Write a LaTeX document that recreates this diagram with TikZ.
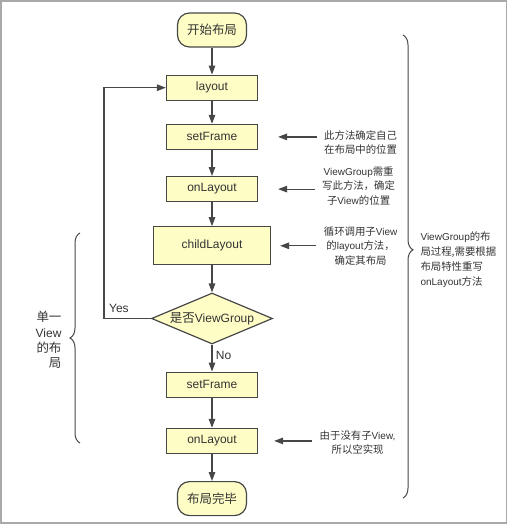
\documentclass[tikz,border=0pt]{standalone}
\usepackage{fontspec}
\setmainfont{Liberation Sans}
\newfontfamily\cjkfont{Noto Sans CJK SC}[Scale=1.04]
\newcommand\zh[1]{{\cjkfont #1}}
\usepackage{tikz}
\usetikzlibrary{positioning, arrows.meta, shapes.geometric, decorations.pathreplacing}
\usepackage{xcolor}
\definecolor{boxfill}{HTML}{FFFDC6}
\definecolor{linegray}{HTML}{474747}
\definecolor{framegray}{HTML}{A9A9A9}
\definecolor{textgray}{HTML}{333333}

\begin{document}
\begin{tikzpicture}[x=1pt, y=-1pt, node distance=26pt,
  every node/.style={text=textgray},
  stepbox/.style={
    rectangle, draw=linegray, fill=boxfill, line width=1.2pt,
    minimum width=91pt, minimum height=25pt, font=\fontsize{12}{14}\selectfont
  },
  terminal/.style={stepbox, rounded corners=12pt, minimum width=69pt, minimum height=34pt},
  decision/.style={
    diamond, aspect=2.4, inner sep=0pt, draw=linegray, fill=boxfill, line width=1.2pt,
    minimum width=121pt, minimum height=51pt, font=\fontsize{12}{14}\selectfont
  },
  note/.style={align=center, font=\fontsize{10}{14.5}\selectfont},
  flow/.style={-{Triangle[length=9pt, width=6.5pt]}, draw=linegray, line width=1.2pt},
  bracegroup/.style={decorate, decoration={brace, amplitude=10pt}, draw=linegray, line width=1pt}]
\useasboundingbox (0,0) rectangle (508,525);
\draw[framegray, line width=1.6pt] (1,1) rectangle (506.5,523);
\node[terminal] (start) at (212,30) {\zh{开始布局}};
\node[stepbox, below=27pt of start] (layout) {layout};
\node[stepbox, below=23pt of layout] (frame) {setFrame};
\node[stepbox, below=of frame] (onlay) {onLayout};
\node[stepbox, below=24pt of onlay, minimum width=117pt, minimum height=38pt] (child) {childLayout};
\node[decision, below=27pt of child] (isvg) {\zh{是否}ViewGroup};
\node[stepbox, below=27pt of isvg] (frame2) {setFrame};
\node[stepbox, below=30pt of frame2] (onlay2) {onLayout};
\node[terminal, below=27pt of onlay2] (done) {\zh{布局完毕}};
\node[note, right=102.5pt of frame, anchor=center, yshift=-5.5pt] (n1) {\zh{此方法确定自己}\\\zh{在布局中的位置}};
\node[note, right=100.5pt of onlay, anchor=center, yshift=3.5pt] (n2) {ViewGroup\zh{需重}\\\zh{写此方法，确定}\\\zh{子}View\zh{的位置}};
\node[note, right=89.5pt of child, anchor=center] (n3) {\zh{循环调用子}View\\\zh{的}layout\zh{方法，}\\\zh{确定其布局}};
\node[note, right=99.5pt of onlay2, anchor=center, yshift=-1.5pt] (n4) {\zh{由于没有子}View,\\\zh{所以空实现}};
\coordinate[left=62pt of layout.west] (loopx);
\coordinate (rbtop) at (403,35);
\coordinate (rbbot) at (403,498);
\coordinate (lbtop) at (80,233);
\coordinate (lbbot) at (80,443);
\node[anchor=west, align=left, font=\fontsize{10}{15}\selectfont] (rlabel) at (417,260)
  {ViewGroup\zh{的布}\\\zh{局过程,需要根据}\\\zh{布局特性重写}\\onLayout\zh{方法}};
\node[anchor=east, align=right, font=\fontsize{12}{15.3}\selectfont] (llabel) at (65,340)
  {\zh{单一}\\View\\\zh{的布}\\\zh{局}};
\draw[flow] (start) -- (layout);
\draw[flow] (layout) -- (frame);
\draw[flow] (frame) -- (onlay);
\draw[flow] (onlay) -- (child);
\draw[flow] (child) -- (isvg);
\draw[flow] (isvg) -- node[right, pos=0.4, font=\fontsize{12}{14}\selectfont] (nolbl) {No} (frame2);
\draw[flow] (frame2) -- (onlay2);
\draw[flow] (onlay2) -- (done);
\draw[flow] (isvg.west) -- node[above, pos=0.68, yshift=2pt, font=\fontsize{12}{14}\selectfont] (yeslbl) {Yes}
  (isvg.west -| loopx) |- (layout.west);
\draw[flow, shorten >=20pt, shorten <=4pt] (n1.west |- frame) -- (frame.east);
\draw[flow, shorten >=20pt, shorten <=4pt] (n2.west |- onlay) -- (onlay.east);
\draw[flow, shorten >=9pt, shorten <=4pt] (n3.west |- child) -- (child.east);
\draw[flow, shorten >=16pt, shorten <=4pt] (n4.west |- onlay2) -- (onlay2.east);
\draw[bracegroup, decoration={aspect=0.464}] (rbtop) -- (rbbot);
\draw[bracegroup, decoration={aspect=0.5}] (lbbot) -- (lbtop);
\end{tikzpicture}
\end{document}
